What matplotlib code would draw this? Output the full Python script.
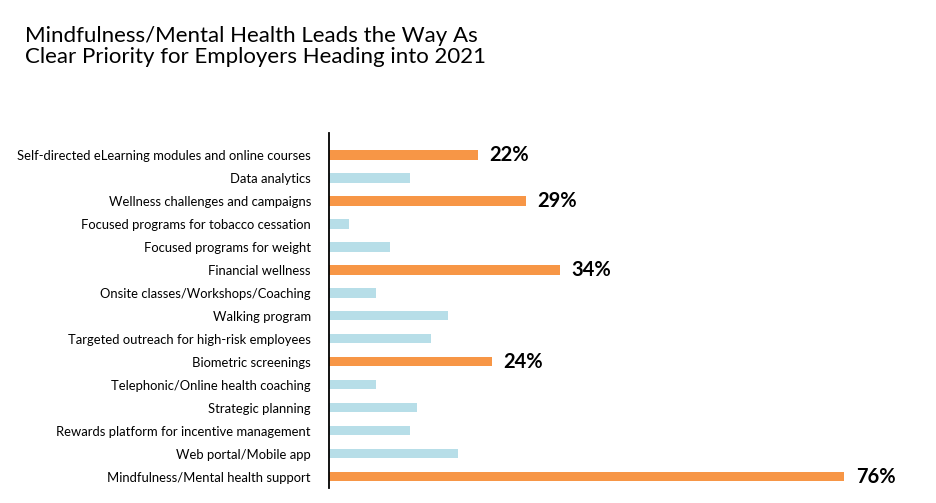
import matplotlib.pyplot as plt

categories = [
    "Self-directed eLearning modules and online courses",
    "Data analytics",
    "Wellness challenges and campaigns",
    "Focused programs for tobacco cessation",
    "Focused programs for weight",
    "Financial wellness",
    "Onsite classes/Workshops/Coaching",
    "Walking program",
    "Targeted outreach for high-risk employees",
    "Biometric screenings",
    "Telephonic/Online health coaching",
    "Strategic planning",
    "Rewards platform for incentive management",
    "Web portal/Mobile app",
    "Mindfulness/Mental health support",
]
values = [22, 12, 29, 3, 9, 34, 7, 17.5, 15, 24, 7, 13, 12, 19, 76]
highlight = [True, False, True, False, False, True, False, False, False, True,
             False, False, False, False, True]

orange = "#F79646"
light_blue = "#B7DEE8"

plt.rcParams['font.family'] = ['Lato', 'DejaVu Sans']

fig = plt.figure(figsize=(9.36, 5.03), dpi=100)
ax = fig.add_axes([329 / 936, 15 / 503, 579 / 936, 355 / 503])

pos = list(range(len(categories)))
colors = [orange if h else light_blue for h in highlight]
ax.barh(pos, values, height=0.42, color=colors)

for p, v, h in zip(pos, values, highlight):
    if h:
        ax.text(v + 1.7, p, f"{v:.0f}%", va="center", ha="left",
                fontsize=14.5, fontweight="bold", color="black")

ax.set_yticks(pos)
ax.set_yticklabels(categories, fontsize=9.4)
ax.tick_params(axis="y", length=0, pad=13)
ax.set_xticks([])
ax.set_xlim(0, 579 / 6.78)
ax.set_ylim(14.5, -0.95)
for s in ["top", "right", "bottom"]:
    ax.spines[s].set_visible(False)
ax.spines["left"].set_linewidth(1.3)
ax.spines["left"].set_color("black")

fig.text(25 / 936, 1 - 26 / 503,
         "Mindfulness/Mental Health Leads the Way As\nClear Priority for Employers Heading into 2021",
         fontsize=16, va="top", ha="left", linespacing=1.08)

fig.savefig("out.png", dpi=100)
